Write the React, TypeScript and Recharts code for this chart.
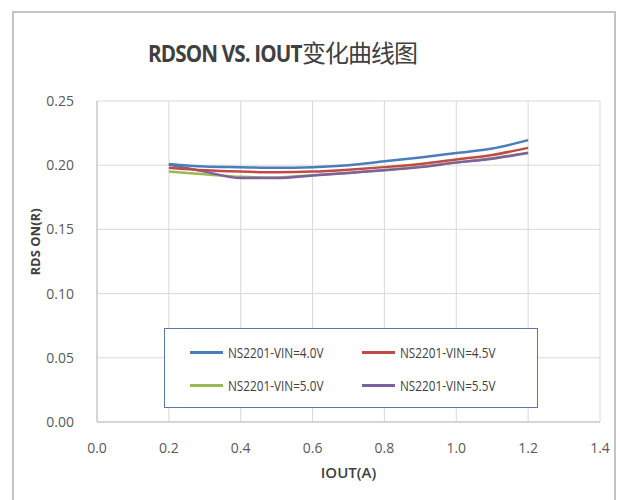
import React from "react";
import { LineChart, Line, XAxis, YAxis, CartesianGrid } from "recharts";

const iout = [0.2, 0.3, 0.4, 0.5, 0.6, 0.7, 0.8, 0.9, 1.0, 1.1, 1.2];
const vin40 = [0.201, 0.199, 0.1985, 0.198, 0.1985, 0.2, 0.203, 0.206, 0.2095, 0.213, 0.2195];
const vin45 = [0.198, 0.196, 0.195, 0.1945, 0.195, 0.1965, 0.1985, 0.201, 0.2045, 0.208, 0.2135];
const vin50 = [0.195, 0.193, 0.191, 0.1905, 0.1922, 0.194, 0.1963, 0.1988, 0.2022, 0.2055, 0.2098];
const vin55 = [0.2005, 0.195, 0.19, 0.19, 0.192, 0.194, 0.196, 0.1985, 0.202, 0.205, 0.2095];

const xTicks = [0, 0.2, 0.4, 0.6, 0.8, 1.0, 1.2, 1.4];
const yTicks = [0, 0.05, 0.1, 0.15, 0.2, 0.25];

const seriesNames = ["NS2201-VIN=4.0V", "NS2201-VIN=4.5V", "NS2201-VIN=5.0V", "NS2201-VIN=5.5V"];
const seriesColors = ["#4a7ebb", "#be4b48", "#98b954", "#7d60a0"];

const data = iout.map((x, i) => ({ x, s0: vin40[i], s1: vin45[i], s2: vin50[i], s3: vin55[i] }));

const tickFont = "'Open Sans', sans-serif";

const LegendBox = () => (
  <div
    style={{
      position: "absolute",
      left: 164,
      top: 328,
      width: 374,
      height: 80,
      border: "1px solid #5a78a6",
      background: "#fff",
      boxSizing: "border-box",
      display: "grid",
      gridTemplateColumns: "172px 172px",
      gridTemplateRows: "33px 33px",
      paddingLeft: 25,
      paddingTop: 7,
      fontFamily: tickFont,
      fontSize: 14,
      color: "#404040",
    }}
  >
    {[0, 1, 2, 3].map((i) => (
      <div key={i} style={{ display: "flex", alignItems: "center", whiteSpace: "nowrap" }}>
        <span style={{ display: "inline-block", width: 33, height: 3, background: seriesColors[i], marginRight: 5 }} />
        <span style={{ display: "inline-block", transform: "scaleX(0.84)", transformOrigin: "left" }}>{seriesNames[i]}</span>
      </div>
    ))}
  </div>
);

export default function App() {
  return (
    <div style={{ position: "absolute", left: 0, top: 0, width: 620, height: 500, background: "#fff", overflow: "hidden" }}>
      <div
        style={{
          position: "absolute",
          left: 12,
          top: 11,
          width: 604,
          height: 520,
          border: "2px solid #c4c4c4",
          boxSizing: "border-box",
        }}
      />
      <div
        style={{
          position: "absolute",
          left: 148,
          top: 34,
          fontFamily: "'Noto Sans CJK SC', 'Open Sans', sans-serif",
          fontSize: 24,
          fontWeight: 700,
          color: "#404040",
          whiteSpace: "nowrap",
          letterSpacing: -1,
        }}
      >
        <span style={{ display: "inline-block", width: 154, fontFamily: tickFont }}>
          <span style={{ display: "inline-block", transform: "scaleX(0.86)", transformOrigin: "left" }}>RDSON VS. IOUT</span>
        </span>
        <span style={{ fontWeight: 400 }}>变化曲线图</span>
      </div>
      <LineChart
        width={620}
        height={500}
        data={data}
        margin={{ top: 101, right: 20, left: 37, bottom: 38 }}
        style={{ position: "absolute", left: 0, top: 0 }}
      >
        <CartesianGrid stroke="#d9d9d9" strokeWidth={1} />
        <XAxis
          dataKey="x"
          type="number"
          domain={[0, 1.4]}
          ticks={xTicks}
          tickFormatter={(v: number) => v.toFixed(1)}
          tickLine={false}
          axisLine={{ stroke: "#bfbfbf" }}
          tickMargin={15}
          height={40}
          tick={{ fill: "#595959", fontSize: 14, fontFamily: tickFont }}
          label={{
            value: "IOUT(A)",
            position: "insideBottom",
            offset: -16,
            fill: "#404040",
            fontSize: 15,
            fontWeight: 600,
            fontFamily: tickFont,
          }}
        />
        <YAxis
          type="number"
          domain={[0, 0.25]}
          ticks={yTicks}
          tickFormatter={(v: number) => v.toFixed(2)}
          tickLine={false}
          axisLine={{ stroke: "#bfbfbf" }}
          tickMargin={17}
          width={60}
          tick={{ fill: "#595959", fontSize: 14, fontFamily: tickFont }}
          label={{
            value: "RDS ON(R)",
            angle: -90,
            position: "insideLeft",
            offset: -2,
            dy: 14,
            fill: "#404040",
            fontSize: 13,
            fontWeight: 700,
            fontFamily: tickFont,
          }}
        />
        <Line type="monotone" dataKey="s2" name={seriesNames[2]} stroke={seriesColors[2]} strokeWidth={2.5} dot={false} isAnimationActive={false} />
        <Line type="monotone" dataKey="s3" name={seriesNames[3]} stroke={seriesColors[3]} strokeWidth={2.5} dot={false} isAnimationActive={false} />
        <Line type="monotone" dataKey="s1" name={seriesNames[1]} stroke={seriesColors[1]} strokeWidth={2.5} dot={false} isAnimationActive={false} />
        <Line type="monotone" dataKey="s0" name={seriesNames[0]} stroke={seriesColors[0]} strokeWidth={2.5} dot={false} isAnimationActive={false} />
      </LineChart>
      <LegendBox />
    </div>
  );
}
